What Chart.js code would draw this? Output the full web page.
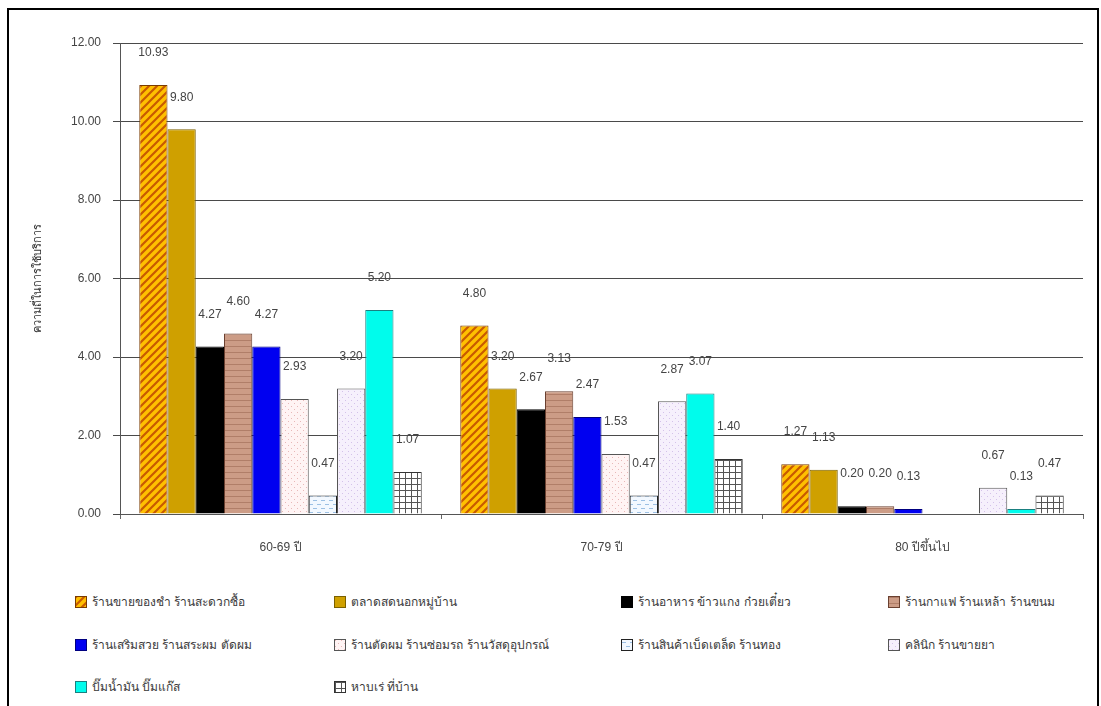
<!DOCTYPE html>
<html>
<head>
<meta charset="utf-8">
<script src="https://cdn.jsdelivr.net/npm/chart.js@4.4.1/dist/chart.umd.min.js"></script>
<style>
    body { margin: 0; background: #fff; font-family: "Liberation Sans", "DejaVu Sans", "Noto Sans", sans-serif; }
    #frame { position: absolute; left: 7px; top: 8px; width: 1088px; height: 720px; border: 2px solid #000; }
    #wrap { position: absolute; left: 9px; top: 10px; width: 1084px; height: 560px; }
    #legend { position: absolute; left: 0; top: 0; }
    .item { position: absolute; font-size: 12px; color: #3a3a3a; white-space: nowrap; line-height: 14px; }
    .item canvas { vertical-align: -2px; margin-right: 5px; border: 1px solid #333; }
</style>
</head>
<body>
<div id="frame"></div>
<div id="wrap"><canvas id="chart"></canvas></div>
<div id="legend"></div>
<script>
// categories (age groups)
var categories = ['60-69 ปี', '70-79 ปี', '80 ปีขึ้นไป'];

// shop types
var seriesNames = [
    'ร้านขายของชำ ร้านสะดวกซื้อ',
    'ตลาดสดนอกหมู่บ้าน',
    'ร้านอาหาร ข้าวแกง ก๋วยเตี๋ยว',
    'ร้านกาแฟ ร้านเหล้า ร้านขนม',
    'ร้านเสริมสวย ร้านสระผม ตัดผม',
    'ร้านตัดผม ร้านซ่อมรถ ร้านวัสดุอุปกรณ์',
    'ร้านสินค้าเบ็ดเตล็ด ร้านทอง',
    'คลินิก ร้านขายยา',
    'ปั๊มน้ำมัน ปั๊มแก๊ส',
    'หาบเร่ ที่บ้าน'
];

// values per shop type, one per age group
var s1 = [10.93, 4.80, 1.27];
var s2 = [9.80, 3.20, 1.13];
var s3 = [4.27, 2.67, 0.20];
var s4 = [4.60, 3.13, 0.20];
var s5 = [4.27, 2.47, 0.13];
var s6 = [2.93, 1.53, 0];
var s7 = [0.47, 0.47, 0];
var s8 = [3.20, 2.87, 0.67];
var s9 = [5.20, 3.07, 0.13];
var s10 = [1.07, 1.40, 0.47];

var yTicks = [0, 2, 4, 6, 8, 10, 12];
var yTitle = 'ความถี่ในการใช้บริการ';

// pattern helpers
function makeTile(size, draw) {
    var c = document.createElement('canvas');
    c.width = size; c.height = size;
    draw(c.getContext('2d'), size);
    return c;
}

function tiles() {
    return [
        makeTile(8, function (g, n) {
            g.fillStyle = '#ffc000'; g.fillRect(0, 0, n, n);
            g.strokeStyle = '#c85a00'; g.lineWidth = 2.2;
            g.beginPath();
            g.moveTo(-2, n + 2); g.lineTo(n + 2, -2);
            g.moveTo(-2, 2); g.lineTo(2, -2);
            g.moveTo(n - 2, n + 2); g.lineTo(n + 2, n - 2);
            g.stroke();
        }),
        makeTile(8, function (g, n) {
            g.fillStyle = '#cfa000'; g.fillRect(0, 0, n, n);
        }),
        makeTile(8, function (g, n) {
            g.fillStyle = '#000000'; g.fillRect(0, 0, n, n);
        }),
        makeTile(6, function (g, n) {
            g.fillStyle = '#cc9c86'; g.fillRect(0, 0, n, n);
            g.fillStyle = '#b07e68'; g.fillRect(0, 0, n, 1);
        }),
        makeTile(8, function (g, n) {
            g.fillStyle = '#0000f0'; g.fillRect(0, 0, n, n);
        }),
        makeTile(6, function (g, n) {
            g.fillStyle = '#fff4f4'; g.fillRect(0, 0, n, n);
            g.fillStyle = '#e8b8b8';
            g.fillRect(0, 0, 1, 1); g.fillRect(3, 3, 1, 1);
        }),
        makeTile(8, function (g, n) {
            g.fillStyle = '#f2f8ff'; g.fillRect(0, 0, n, n);
            g.fillStyle = '#9cc0e4';
            g.fillRect(0, 2, 4, 1); g.fillRect(4, 6, 4, 1);
        }),
        makeTile(6, function (g, n) {
            g.fillStyle = '#f6f0fc'; g.fillRect(0, 0, n, n);
            g.fillStyle = '#d4c2ea';
            g.fillRect(0, 0, 1, 1); g.fillRect(3, 3, 1, 1);
        }),
        makeTile(8, function (g, n) {
            g.fillStyle = '#00fcec'; g.fillRect(0, 0, n, n);
        }),
        makeTile(6, function (g, n) {
            g.fillStyle = '#ffffff'; g.fillRect(0, 0, n, n);
            g.fillStyle = '#555555';
            g.fillRect(0, 0, n, 1); g.fillRect(0, 0, 1, n);
        })
    ];
}

var borders = ['#7a3c00', '#7a6000', '#000000', '#6a4030', '#000080',
               '#555555', '#222222', '#555555', '#1a8080', '#333333'];

var ctx = document.getElementById('chart').getContext('2d');
var tileList = tiles();
var values = [s1, s2, s3, s4, s5, s6, s7, s8, s9, s10];

var datasets = values.map(function (v, i) {
    return {
        label: seriesNames[i],
        data: v,
        backgroundColor: ctx.createPattern(tileList[i], 'repeat'),
        borderColor: borders[i],
        borderWidth: 1,
        categoryPercentage: 0.88,
        barPercentage: 1.0
    };
});

// value labels above each bar
var valueLabels = {
    id: 'valueLabels',
    afterDatasetsDraw: function (chart) {
        var g = chart.ctx;
        g.save();
        g.font = '12px "Liberation Sans", sans-serif';
        g.fillStyle = '#444';
        g.textAlign = 'center';
        g.textBaseline = 'middle';
        chart.data.datasets.forEach(function (ds, di) {
            var meta = chart.getDatasetMeta(di);
            meta.data.forEach(function (bar, k) {
                var v = ds.data[k];
                if (!v) return;
                g.fillText(v.toFixed(2), bar.x, bar.y - 32);
            });
        });
        g.restore();
    }
};

new Chart(ctx, {
    type: 'bar',
    data: { labels: categories, datasets: datasets },
    plugins: [valueLabels],
    options: {
        responsive: true,
        maintainAspectRatio: false,
        animation: false,
        layout: { padding: { top: 33, right: 10, left: 0, bottom: 0 } },
        plugins: { legend: { display: false }, tooltip: { enabled: false } },
        scales: {
            x: {
                grid: { display: true, drawOnChartArea: false, offset: true, color: '#666', tickLength: 5 },
                border: { color: '#555' },
                ticks: { color: '#444', font: { size: 12, family: 'Liberation Sans' }, padding: 21 },
                afterFit: function (s) { s.height = 56; }
            },
            y: {
                min: 0, max: 12,
                afterBuildTicks: function (s) { s.ticks = yTicks.map(function (t) { return { value: t }; }); },
                grid: { color: '#4a4a4a', tickLength: 7 },
                border: { color: '#555' },
                ticks: {
                    color: '#444', padding: 12,
                    font: { size: 12, family: 'Liberation Sans' },
                    callback: function (v) { return Number(v).toFixed(2); }
                },
                title: { display: true, text: yTitle, color: '#333', font: { size: 11 }, padding: { top: 22, bottom: 0 } },
                afterFit: function (s) { s.width = 111; }
            }
        }
    }
});

// legend, four columns
var legendCols = [75, 334, 621, 888];
var legendRows = [603, 646, 688];
var box = document.getElementById('legend');
seriesNames.forEach(function (name, i) {
    var d = document.createElement('div');
    d.className = 'item';
    d.style.left = legendCols[i % 4] + 'px';
    d.style.top = (legendRows[Math.floor(i / 4)] - 8) + 'px';
    var sw = document.createElement('canvas');
    sw.width = 10; sw.height = 10;
    var sg = sw.getContext('2d');
    sg.fillStyle = sg.createPattern(tileList[i], 'repeat');
    sg.fillRect(0, 0, 10, 10);
    sw.style.borderColor = borders[i];
    d.appendChild(sw);
    d.appendChild(document.createTextNode(name));
    box.appendChild(d);
});
</script>
</body>
</html>
